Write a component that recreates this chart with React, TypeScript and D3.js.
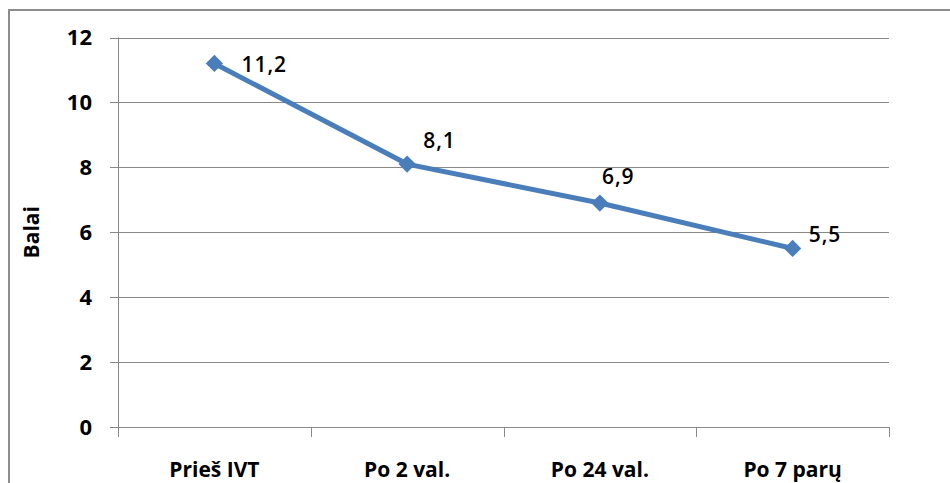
import React from "react";
import * as d3 from "d3";

// Scores over time after treatment
const categories = ["Prieš IVT", "Po 2 val.", "Po 24 val.", "Po 7 parų"];
const scores = [11.2, 8.1, 6.9, 5.5];
const yTicks = [0, 2, 4, 6, 8, 10, 12];
const yTitle = "Balai";

// Hand-placed nudges for the value labels, relative to each marker [dx, dy]
const labelNudge: [number, number][] = [
  [27, 9],
  [16, -16],
  [2, -19],
  [16, -6],
];

const W = 950;
const H = 483;
const plot = { left: 118, right: 889, top: 37.5, bottom: 427 };
const GRID = "#888888";
const LINE = "#4A7EBB";
const FONT = "'Open Sans', 'Liberation Sans', sans-serif";

export default function App() {
  const x = d3
    .scaleBand<string>()
    .domain(categories)
    .range([plot.left, plot.right])
    .paddingInner(0)
    .paddingOuter(0);
  const y = d3.scaleLinear().domain([0, 12]).range([plot.bottom, plot.top]);
  const cx = (c: string) => (x(c) ?? 0) + x.bandwidth() / 2;

  const points = categories.map((c, i) => ({ c, v: scores[i] }));
  const line = d3
    .line<{ c: string; v: number }>()
    .x((d) => cx(d.c))
    .y((d) => y(d.v));
  const diamond = d3.symbol().type(d3.symbolDiamond2).size(190)();

  const xTickPos = [...categories.map((c) => x(c) ?? 0), plot.right];

  return (
    <svg
      width={W}
      height={H}
      style={{ position: "absolute", left: 0, top: 0, background: "#fff" }}
      fontFamily={FONT}
    >
      {/* chart frame */}
      <rect x={9} y={10} width={W + 20} height={H + 20} fill="#fff" stroke="#8c8c8c" strokeWidth={2} />

      {/* horizontal gridlines with tick stubs */}
      {yTicks.map((t) => (
        <line
          key={`g${t}`}
          x1={plot.left - 8}
          x2={plot.right}
          y1={Math.round(y(t)) + 0.5}
          y2={Math.round(y(t)) + 0.5}
          stroke={GRID}
          strokeWidth={1}
        />
      ))}
      {/* value axis */}
      <line x1={plot.left + 0.5} x2={plot.left + 0.5} y1={plot.top} y2={plot.bottom} stroke={GRID} />
      {/* category ticks */}
      {xTickPos.map((px, i) => (
        <line
          key={`xt${i}`}
          x1={Math.round(px) + 0.5}
          x2={Math.round(px) + 0.5}
          y1={plot.bottom}
          y2={plot.bottom + 10}
          stroke={GRID}
        />
      ))}

      {/* y tick labels */}
      {yTicks.map((t) => (
        <text
          key={`yl${t}`}
          x={92}
          y={y(t)}
          dy="0.36em"
          textAnchor="end"
          fontSize={22}
          fontWeight={700}
          fill="#000"
        >
          {t}
        </text>
      ))}

      {/* y title */}
      <text
        transform={`translate(39, ${(plot.top + plot.bottom) / 2}) rotate(-90)`}
        textAnchor="middle"
        fontSize={21}
        fontWeight={700}
        fill="#000"
      >
        {yTitle}
      </text>

      {/* category labels */}
      {categories.map((c) => (
        <text key={c} x={cx(c)} y={477} textAnchor="middle" fontSize={21} fontWeight={700} fill="#000">
          {c}
        </text>
      ))}

      {/* series line */}
      <path d={line(points) ?? ""} fill="none" stroke={LINE} strokeWidth={5} strokeLinejoin="round" />
      {points.map((p) => (
        <path key={`m${p.c}`} d={diamond ?? ""} transform={`translate(${cx(p.c)}, ${y(p.v)})`} fill={LINE} />
      ))}

      {/* value labels */}
      {points.map((p, i) => (
        <text
          key={`v${p.c}`}
          x={cx(p.c) + labelNudge[i][0]}
          y={y(p.v) + labelNudge[i][1]}
          fontSize={21}
          fontWeight={600}
          letterSpacing={1}
          fill="#000"
        >
          {String(p.v).replace(".", ",")}
        </text>
      ))}
    </svg>
  );
}
